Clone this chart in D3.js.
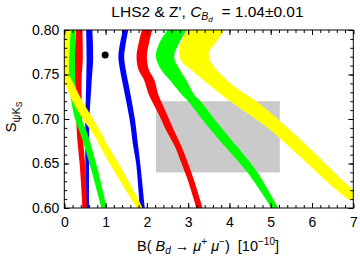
<!DOCTYPE html>
<html>
<head>
<meta charset="utf-8">
<script src="https://cdn.jsdelivr.net/npm/d3@7"></script>
<style>
body { margin: 0; background: #fff; }
text { font-family: "Liberation Sans", Arial, sans-serif; fill: #000; white-space: pre; }
</style>
</head>
<body>
<svg id="chart" width="360" height="258"></svg>
<script>
// each band: rows of [S, B low edge, B high edge]
const blueLeft = [[0.80, 0.53, 0.68], [0.77, 0.54, 0.70], [0.74, 0.53, 0.66], [0.70, 0.51, 0.61], [0.65, 0.51, 0.60], [0.60, 0.52, 0.60]];
const blueRight = [[0.80, 1.42, 1.55], [0.785, 1.35, 1.49], [0.77, 1.31, 1.45], [0.755, 1.35, 1.49], [0.736, 1.43, 1.57], [0.70, 1.58, 1.71], [0.669, 1.67, 1.79], [0.65, 1.74, 1.84], [0.60, 1.83, 1.95]];
const redLeft = [[0.80, 0.28, 0.44], [0.77, 0.26, 0.45], [0.744, 0.26, 0.42], [0.70, 0.29, 0.43], [0.68, 0.31, 0.45], [0.645, 0.38, 0.51], [0.60, 0.44, 0.55]];
const redMid = [[0.80, 1.88, 2.13], [0.785, 1.80, 2.05], [0.77, 1.75, 2.00], [0.755, 1.80, 2.05], [0.744, 1.93, 2.18], [0.727, 2.05, 2.28], [0.706, 2.28, 2.48], [0.688, 2.46, 2.65], [0.669, 2.68, 2.84], [0.65, 2.84, 3.00], [0.63, 3.00, 3.15], [0.60, 3.20, 3.35]];
const greenLeft = [[0.80, 0.14, 0.27], [0.78, 0.12, 0.26], [0.76, 0.11, 0.26], [0.74, 0.12, 0.27], [0.72, 0.17, 0.33], [0.70, 0.26, 0.42], [0.682, 0.40, 0.57], [0.645, 0.64, 0.80], [0.60, 0.90, 1.03]];
const greenMid = [[0.80, 2.50, 2.96], [0.785, 2.30, 2.78], [0.77, 2.22, 2.66], [0.755, 2.35, 2.80], [0.744, 2.55, 2.95], [0.727, 2.85, 3.15], [0.72, 3.00, 3.30], [0.695, 3.42, 3.72], [0.667, 3.93, 4.22], [0.639, 4.45, 4.69], [0.60, 5.02, 5.18]];
const yellowLeft = [[0.80, -0.10, 0.16], [0.78, -0.10, 0.13], [0.76, -0.10, 0.11], [0.75, -0.05, 0.12], [0.74, 0.02, 0.22], [0.72, 0.20, 0.44], [0.70, 0.45, 0.70], [0.682, 0.72, 0.92], [0.668, 0.88, 1.08], [0.645, 1.16, 1.38], [0.60, 1.76, 1.90]];
const yellowRight = [[0.80, 2.98, 3.88], [0.7865, 2.83, 3.68], [0.774, 2.78, 3.50], [0.764, 2.85, 3.55], [0.755, 3.08, 3.69], [0.736, 3.57, 4.13], [0.72, 4.02, 4.65], [0.688, 4.98, 5.46], [0.665, 5.54, 5.99], [0.62, 6.60, 7.00], [0.609, 6.90, 7.30]];

const boxB = [2.22, 5.22];
const boxS = [0.64, 0.72];
const smPoint = [0.99, 0.772];

const xTicks = [0, 1, 2, 3, 4, 5, 6, 7];
const yTicks = [0.60, 0.65, 0.70, 0.75, 0.80];

// center a text element by hand (tspans with dy shifts upset text-anchor)
function centerText(t, cx) {
    const w = t.node().getComputedTextLength();
    t.attr("x", cx - w / 2);
}

function makeChart() {
    const svg = d3.select("#chart");
    const left = 64.3, right = 353.3, top = 30, bottom = 208;

    const x = d3.scaleLinear().domain([0, 7]).range([left, right]);
    const y = d3.scaleLinear().domain([0.6, 0.8]).range([bottom, top]);

    svg.append("clipPath").attr("id", "plotClip")
        .append("rect")
        .attr("x", left).attr("y", top)
        .attr("width", right - left).attr("height", bottom - top);

    const plot = svg.append("g").attr("clip-path", "url(#plotClip)");

    // gray experimental box
    plot.append("rect")
        .attr("x", x(boxB[0])).attr("y", y(boxS[1]))
        .attr("width", x(boxB[1]) - x(boxB[0]))
        .attr("height", y(boxS[0]) - y(boxS[1]))
        .attr("fill", "#cacaca");

    const band = d3.area()
        .y(d => y(d[0]))
        .x0(d => x(d[1]))
        .x1(d => x(d[2]))
        .curve(d3.curveCatmullRom);

    const layers = [
        [blueLeft, "#0000ff"], [blueRight, "#0000ff"],
        [redLeft, "#ff0000"], [redMid, "#ff0000"],
        [greenLeft, "#00ff00"], [greenMid, "#00ff00"],
        [yellowLeft, "#ffff00"], [yellowRight, "#ffff00"]
    ];
    layers.forEach(([rows, col]) => {
        plot.append("path")
            .datum(rows)
            .attr("fill", col)
            .attr("d", band);
    });

    plot.append("circle")
        .attr("cx", x(smPoint[0]))
        .attr("cy", y(smPoint[1]))
        .attr("r", 3.5)
        .attr("fill", "#000");

    // Axes (ticks inward on all four sides)
    const xMinor = d3.range(0, 7.001, 0.2).map(v => +v.toFixed(1));
    const yMinor = d3.range(0.60, 0.8001, 0.01).map(v => +v.toFixed(2));

    const styleAxis = g => {
        g.select(".domain").remove();
        g.selectAll("line").attr("stroke", "#000").attr("stroke-width", 1);
        g.selectAll("text").style("font-size", "14px").attr("fill", "#000");
    };

    svg.append("g").attr("transform", `translate(0,${bottom})`)
        .call(d3.axisBottom(x).tickValues(xMinor).tickSize(-3).tickFormat(""))
        .call(styleAxis);
    svg.append("g").attr("transform", `translate(0,${bottom})`)
        .call(d3.axisBottom(x).tickValues(xTicks).tickSize(-5).tickPadding(9).tickFormat(d3.format("d")))
        .call(styleAxis);
    svg.append("g").attr("transform", `translate(0,${top})`)
        .call(d3.axisTop(x).tickValues(xMinor).tickSize(-3).tickFormat(""))
        .call(styleAxis);
    svg.append("g").attr("transform", `translate(0,${top})`)
        .call(d3.axisTop(x).tickValues(xTicks).tickSize(-5).tickFormat(""))
        .call(styleAxis);

    svg.append("g").attr("transform", `translate(${left},0)`)
        .call(d3.axisLeft(y).tickValues(yMinor).tickSize(-3).tickFormat(""))
        .call(styleAxis);
    svg.append("g").attr("transform", `translate(${left},0)`)
        .call(d3.axisLeft(y).tickValues(yTicks).tickSize(-5).tickPadding(5).tickFormat(d3.format(".2f")))
        .call(styleAxis);
    svg.append("g").attr("transform", `translate(${right},0)`)
        .call(d3.axisRight(y).tickValues(yMinor).tickSize(-3).tickFormat(""))
        .call(styleAxis);
    svg.append("g").attr("transform", `translate(${right},0)`)
        .call(d3.axisRight(y).tickValues(yTicks).tickSize(-5).tickFormat(""))
        .call(styleAxis);

    svg.append("rect")
        .attr("x", left).attr("y", top)
        .attr("width", right - left).attr("height", bottom - top)
        .attr("fill", "none").attr("stroke", "#000").attr("stroke-width", 1);

    // Title
    const title = svg.append("text")
        .attr("y", 17)
        .style("font-size", "15.5px");
    title.append("tspan").text("LHS2 & Z', ");
    title.append("tspan").attr("font-style", "italic").text("C");
    title.append("tspan").attr("font-style", "italic").attr("dy", 3).style("font-size", "10.5px").text("B");
    title.append("tspan").attr("font-style", "italic").attr("dy", 2).style("font-size", "8px").text("d");
    title.append("tspan").attr("dy", -5).text("  = 1.04\u00b10.01");
    centerText(title, 207.5);

    // Y label
    const yl = svg.append("text")
        .attr("transform", `translate(16,${(top + bottom) / 2 - 2}) rotate(-90)`)
        .style("font-size", "15px");
    yl.append("tspan").text("S");
    yl.append("tspan").attr("dy", 4).style("font-size", "11px").text("\u03c8K");
    yl.append("tspan").attr("dy", 2).style("font-size", "8.5px").text("S");
    centerText(yl, 0);

    // X label
    const xl = svg.append("text")
        .attr("y", 251)
        .style("font-size", "14.5px");
    xl.append("tspan").text("B( ");
    xl.append("tspan").attr("font-style", "italic").text("B");
    xl.append("tspan").attr("font-style", "italic").attr("dy", 3).style("font-size", "10px").text("d");
    xl.append("tspan").attr("dy", -3).text(" \u2192 ");
    xl.append("tspan").attr("font-style", "italic").text("\u03bc");
    xl.append("tspan").attr("dy", -6).style("font-size", "10px").text("+");
    xl.append("tspan").attr("dy", 6).attr("font-style", "italic").text(" \u03bc");
    xl.append("tspan").attr("dy", -6).style("font-size", "10px").text("\u2212");
    xl.append("tspan").attr("dy", 6).text(")  [10");
    xl.append("tspan").attr("dy", -6).style("font-size", "10px").text("\u221210");
    xl.append("tspan").attr("dy", 6).text("]");
    centerText(xl, 208);
}

makeChart();
</script>
</body>
</html>
